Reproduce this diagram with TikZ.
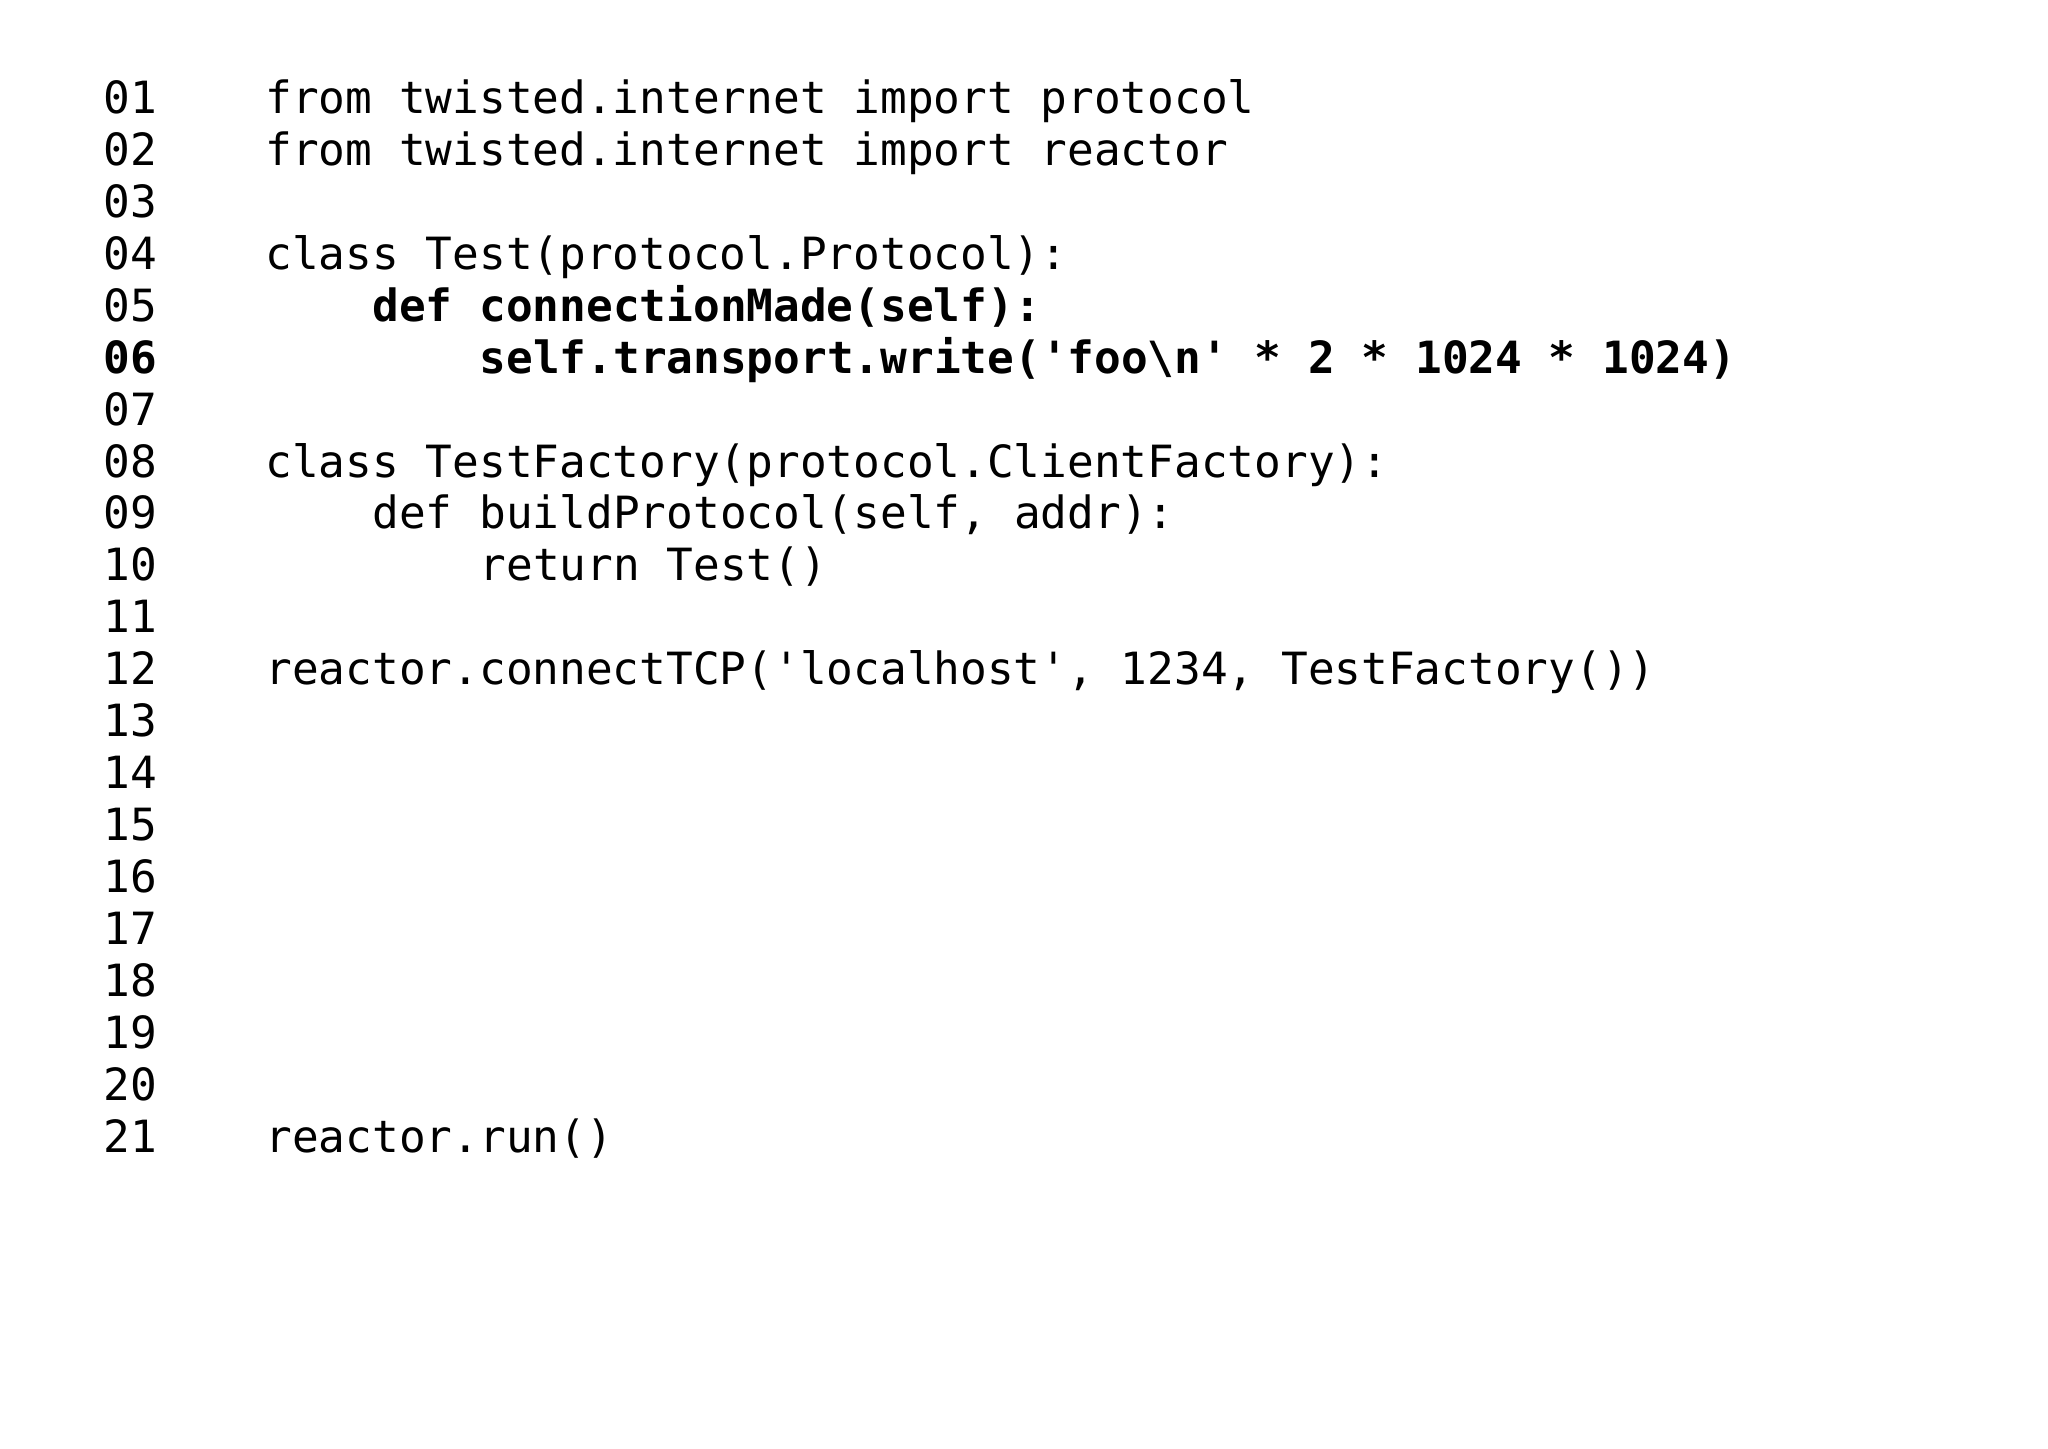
\documentclass[tikz,border=0pt]{standalone}
\usepackage{fontspec}
\newfontfamily\code{DejaVu Sans Mono}
\begin{document}
\begin{tikzpicture}[x=1pt,y=-1pt,every node/.style={anchor=base west,inner sep=0pt,font=\code\fontsize{34}{40}\selectfont}]
\useasboundingbox (0,0) rectangle (1568,1109);
\def\ln{39.75}
\foreach \i/\t in {1/01,2/02,3/03,4/04,5/05,7/07,8/08,9/09,10/10,11/11,12/12,13/13,14/14,15/15,16/16,17/17,18/18,19/19,20/20,21/21}{
  \node (n\i) at (79,{87+(\i-1)*\ln}) {\t};}
\node[font=\code\bfseries\fontsize{34}{40}\selectfont] (n6) at (79,{87+5*\ln}) {06};
\node (l1) at (203,87) {from twisted.internet import protocol};
\node (l2) at (203,{87+1*\ln}) {from twisted.internet import reactor};
\node (l4) at (203,{87+3*\ln}) {class Test(protocol.Protocol):};
\node[font=\code\bfseries\fontsize{34}{40}\selectfont] (l5) at (285,{87+4*\ln}) {def connectionMade(self):};
\node[font=\code\bfseries\fontsize{34}{40}\selectfont] (l6) at (367,{87+5*\ln}) {self.transport.write('foo\textbackslash n' * 2 * 1024 * 1024)};
\node (l8) at (203,{87+7*\ln}) {class TestFactory(protocol.ClientFactory):};
\node (l9) at (285,{87+8*\ln}) {def buildProtocol(self, addr):};
\node (l10) at (367,{87+9*\ln}) {return Test()};
\node (l12) at (203,{87+11*\ln}) {reactor.connectTCP('localhost', 1234, TestFactory())};
\node (l21) at (203,{87+20*\ln}) {reactor.run()};
\end{tikzpicture}
\end{document}
